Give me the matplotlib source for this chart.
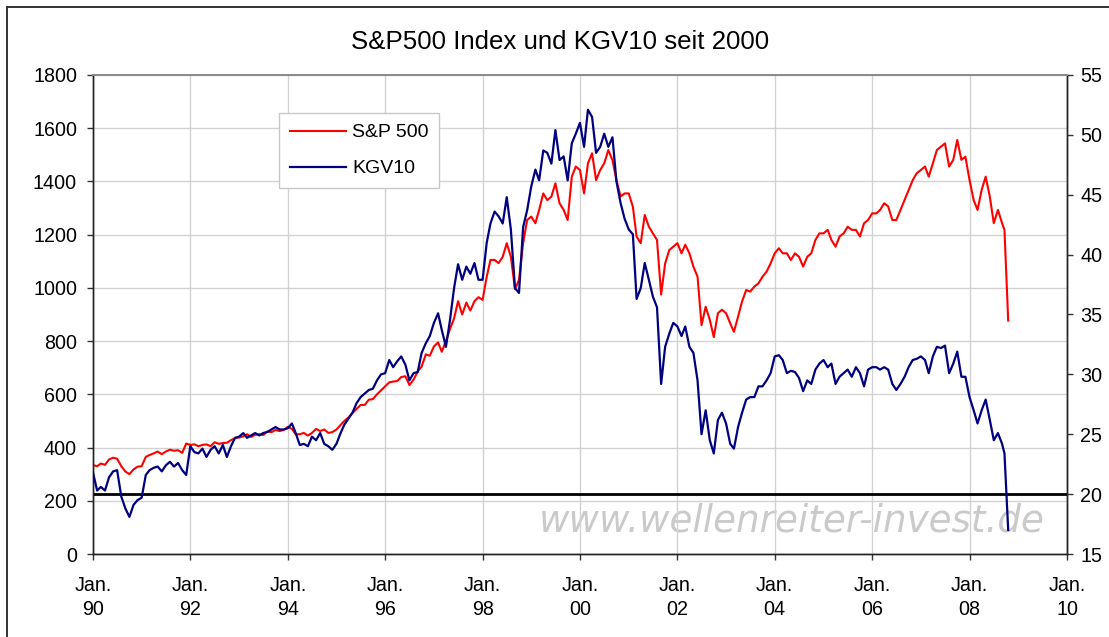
import matplotlib
matplotlib.use('agg')
from matplotlib import pyplot as plt
import matplotlib.dates as mdates
from matplotlib.lines import Line2D
import pandas as pd

plt.rcParams['font.family'] = ['Liberation Sans', 'DejaVu Sans']

# monthly values Jan 1990 .. Sep 2008, plus two points for the Sep/Oct 2008 crash
sp500 = [
    334, 330, 340, 335, 355, 362, 358, 330, 310, 300, 318, 328,             # 1990
    330, 365, 372, 378, 385, 375, 385, 392, 388, 390, 380, 415,             # 1991
    410, 412, 405, 410, 412, 405, 420, 414, 417, 418, 428, 435,             # 1992
    438, 442, 450, 440, 448, 450, 447, 460, 458, 466, 462, 466,             # 1993
    478, 470, 450, 450, 455, 445, 455, 470, 462, 468, 455, 458,             # 1994
    468, 485, 500, 513, 530, 545, 560, 560, 580, 582, 600, 615,             # 1995
    630, 645, 648, 650, 665, 668, 635, 655, 685, 705, 750, 745,             # 1996
    780, 795, 760, 800, 845, 885, 950, 900, 945, 915, 950, 965,             # 1997
    955, 1042, 1105, 1105, 1093, 1117, 1168, 1117, 995, 1030, 1168, 1255,   # 1998
    1268, 1243, 1293, 1355, 1330, 1343, 1393, 1318, 1293, 1255, 1418, 1456,  # 1999
    1443, 1355, 1468, 1506, 1405, 1443, 1468, 1518, 1480, 1405, 1343, 1355,  # 2000
    1355, 1305, 1193, 1168, 1274, 1230, 1205, 1180, 975, 1092, 1142, 1155,  # 2001
    1168, 1130, 1162, 1130, 1080, 1042, 860, 929, 880, 815, 905, 918,       # 2002
    905, 867, 835, 892, 949, 992, 986, 1005, 1017, 1042, 1061, 1092,        # 2003
    1130, 1149, 1130, 1130, 1105, 1130, 1117, 1080, 1117, 1130, 1180, 1205,  # 2004
    1205, 1218, 1180, 1155, 1193, 1205, 1230, 1218, 1218, 1193, 1243, 1255,  # 2005
    1280, 1280, 1293, 1318, 1306, 1255, 1255, 1293, 1330, 1368, 1405, 1431,  # 2006
    1443, 1456, 1418, 1468, 1518, 1531, 1543, 1456, 1481, 1556, 1481, 1493,  # 2007
    1405, 1330, 1293, 1368, 1418, 1343, 1243, 1293, 1243, 1218, 877,        # 2008
]

kgv10 = [
    21.8, 20.3, 20.6, 20.3, 21.4, 21.9, 22.0, 19.8, 18.8, 18.1, 19.1, 19.5,  # 1990
    19.7, 21.6, 22.0, 22.2, 22.3, 21.9, 22.4, 22.7, 22.3, 22.6, 22.0, 21.6,  # 1991
    24.0, 23.5, 23.4, 23.8, 23.1, 23.7, 24.0, 23.4, 24.1, 23.1, 24.0, 24.7,  # 1992
    24.8, 25.1, 24.7, 24.9, 25.1, 24.9, 25.1, 25.2, 25.4, 25.6, 25.4, 25.4,  # 1993
    25.5, 25.9, 25.1, 24.1, 24.2, 24.0, 24.8, 24.5, 25.1, 24.2, 24.0, 23.7,  # 1994
    24.2, 25.1, 25.8, 26.3, 26.8, 27.6, 28.1, 28.4, 28.7, 28.8, 29.5, 30.0,  # 1995
    30.1, 31.2, 30.6, 31.1, 31.5, 30.8, 29.5, 30.1, 30.2, 31.8, 32.6, 33.2,  # 1996
    34.3, 35.1, 33.7, 32.3, 34.5, 37.2, 39.2, 37.9, 39.0, 38.4, 39.3, 37.9,  # 1997
    37.9, 41.0, 42.6, 43.6, 43.2, 42.6, 44.8, 42.1, 37.2, 36.8, 42.3, 43.7,  # 1998
    45.7, 47.1, 46.2, 48.7, 48.5, 47.6, 50.4, 47.9, 48.2, 46.2, 49.3, 50.1,  # 1999
    51.0, 49.0, 52.1, 51.5, 48.5, 49.0, 50.1, 49.0, 49.8, 46.1, 44.3, 43.0,  # 2000
    42.1, 41.7, 36.3, 37.2, 39.3, 37.9, 36.5, 35.6, 29.2, 32.3, 33.4, 34.3,  # 2001
    34.0, 33.2, 34.0, 32.3, 31.8, 29.5, 25.0, 27.0, 24.5, 23.4, 26.2, 26.8,  # 2002
    25.9, 24.2, 23.8, 25.6, 26.8, 27.9, 28.1, 28.1, 29.0, 29.0, 29.5, 30.1,  # 2003
    31.5, 31.6, 31.2, 30.1, 30.3, 30.2, 29.7, 28.6, 29.5, 29.2, 30.4, 30.9,  # 2004
    31.2, 30.6, 30.9, 29.2, 29.8, 30.1, 30.4, 29.8, 30.6, 30.1, 29.0, 30.4,  # 2005
    30.6, 30.6, 30.4, 30.6, 30.4, 29.2, 28.7, 29.2, 29.8, 30.6, 31.2, 31.3,  # 2006
    31.5, 31.2, 30.1, 31.5, 32.3, 32.2, 32.4, 30.1, 30.9, 31.9, 29.8, 29.8,  # 2007
    28.1, 27.0, 25.9, 27.0, 27.9, 26.2, 24.5, 25.1, 24.2, 23.4, 17.0,        # 2008
]

dates = list(pd.date_range('1990-01-01', '2008-09-01', freq='MS')) + \
    [pd.Timestamp('2008-09-19'), pd.Timestamp('2008-10-17')]

kgv_level = 20
title = 'S&P500 Index und KGV10 seit 2000'
watermark = 'www.wellenreiter-invest.de'

W, H = 1109, 637
fig = plt.figure(figsize=(W / 100, H / 100), dpi=100)
fig.patch.set_facecolor('white')

# plot area in pixels: x 93..1067, y 75..554
ax = fig.add_axes([93 / W, 1 - 554 / H, (1067 - 93) / W, (554 - 75) / H])
ax2 = ax.twinx()

ax.set_xlim(pd.Timestamp('1990-01-01'), pd.Timestamp('2010-01-01'))
ax.set_ylim(0, 1800)
ax.set_yticks(range(0, 1801, 200))
ax2.set_ylim(15, 55)
ax2.set_yticks(range(15, 56, 5))

ax.xaxis.set_major_locator(mdates.YearLocator(2))
ax.xaxis.set_major_formatter(mdates.DateFormatter('Jan.\n%y'))

ax.grid(True, color='#d2d2d2', lw=1.0)
ax.set_axisbelow(True)

for a in (ax, ax2):
    a.tick_params(direction='out', length=4.5, width=1.0, color='#333333', labelsize=14.2)
    for s in a.spines.values():
        s.set_color('#222222')
        s.set_linewidth(1.0)
    a.spines['top'].set_color('#8c8c8c')
    a.spines['top'].set_linewidth(1.4)
ax.tick_params(axis='x', pad=11)
ax.tick_params(axis='y', pad=7)
ax2.tick_params(axis='y', pad=5)
for lab in ax.get_xticklabels():
    lab.set_linespacing(1.35)

ax.text(0.7175, 0.069, watermark, transform=ax.transAxes, ha='center', va='center',
        fontsize=26.8, style='italic', family='DejaVu Sans', color='#cacaca', zorder=0.5)

ax.plot(dates, sp500, color='#ff0000', lw=1.5, zorder=3)
ax2.axhline(kgv_level, color='black', lw=2.0, zorder=2)
ax2.plot(dates, kgv10, color='#000080', lw=1.6, zorder=3)

fig.text(0.505, 1 - 42 / H, title, ha='center', va='center', fontsize=18.6)

handles = [Line2D([], [], color='#ff0000', lw=1.5), Line2D([], [], color='#000080', lw=1.6)]
leg = ax2.legend(handles, ['S&P 500', 'KGV10'], loc='upper left',
                 bbox_to_anchor=(279 / W, 1 - 113 / H), bbox_transform=fig.transFigure,
                 fontsize=14, handlelength=2.9, handletextpad=0.3, labelspacing=0.95,
                 borderpad=0.55, borderaxespad=0, fancybox=False, framealpha=1)
leg.get_frame().set_edgecolor('#c8c8c8')
leg.get_frame().set_linewidth(1.0)

# chart border (Excel chart area)
fig.add_artist(Line2D([7 / W, 7 / W], [0, 1 - 7 / H], color='#333333', lw=1.4))
fig.add_artist(Line2D([7 / W, 1], [1 - 7 / H, 1 - 7 / H], color='#333333', lw=1.4))

fig.savefig('out.png', dpi=100, facecolor='white')
